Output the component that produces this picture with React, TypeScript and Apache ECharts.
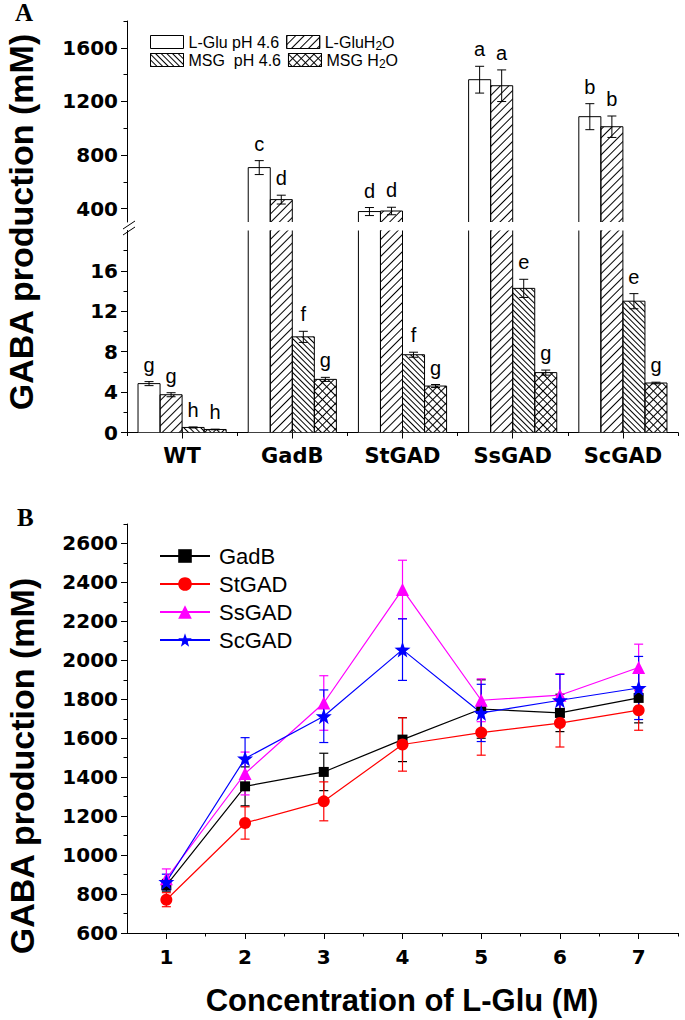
import React, { useEffect, useRef } from 'react';
import * as echarts from 'echarts';

// ---------- Panel A data ----------
const strains = ['WT', 'GadB', 'StGAD', 'SsGAD', 'ScGAD'];
const treatNames = ['L-Glu pH 4.6', 'L-GluH2O', 'MSG  pH 4.6', 'MSG H2O'];

const lgluPH = [4.84, 706, 378, 1362, 1086];
const lgluPHErr = [0.2, 52, 30, 100, 97];
const lgluPHLetters = ['g', 'c', 'd', 'a', 'b'];

const lgluH2O = [3.74, 467, 382, 1317, 1011];
const lgluH2OErr = [0.2, 33, 28, 118, 80];
const lgluH2OLetters = ['g', 'd', 'd', 'a', 'b'];

const msgPH = [0.5, 9.47, 7.7, 14.27, 13.0];
const msgPHErr = [0.05, 0.55, 0.25, 0.9, 0.75];
const msgPHLetters = ['h', 'f', 'f', 'e', 'e'];

const msgH2O = [0.3, 5.26, 4.6, 5.93, 4.9];
const msgH2OErr = [0.03, 0.2, 0.15, 0.25, 0.08];
const msgH2OLetters = ['h', 'g', 'g', 'g', 'g'];

const upperTicks = [400, 800, 1200, 1600];
const upperMinor = [600, 1000, 1400, 1800];
const lowerTicks = [0, 4, 8, 12, 16];
const lowerMinor = [2, 6, 10, 14, 18];

// ---------- Panel B data ----------
const conc = [1, 2, 3, 4, 5, 6, 7];
const concMinor = [1.5, 2.5, 3.5, 4.5, 5.5, 6.5, 7.5];
const bTicks = [600, 800, 1000, 1200, 1400, 1600, 1800, 2000, 2200, 2400, 2600];
const bMinor = [700, 900, 1100, 1300, 1500, 1700, 1900, 2100, 2300, 2500, 2700];

const gadB = [845, 1353, 1427, 1593, 1750, 1730, 1807];
const gadBErr = [30, 100, 96, 113, 150, 96, 128];
const stGAD = [771, 1165, 1276, 1568, 1629, 1678, 1744];
const stGADErr = [36, 83, 100, 137, 116, 123, 103];
const ssGAD = [879, 1419, 1781, 2364, 1795, 1821, 1963];
const ssGADErr = [50, 110, 140, 150, 110, 110, 120];
const scGAD = [862, 1496, 1713, 2055, 1730, 1795, 1858];
const scGADErr = [40, 107, 135, 158, 147, 133, 162];

const ARIAL = '"Liberation Sans", Arial, sans-serif';
const WIDE = '"DejaVu Sans", sans-serif';
const STAR = 'path://M50,0 L62,34 L98,35 L69,57 L79,92 L50,71 L21,92 L31,57 L2,35 L38,34 Z';

const decals: any[] = [
  null,
  { symbol: 'rect', symbolSize: 1, symbolKeepAspect: false, color: '#000', backgroundColor: null, dashArrayX: [1, 0], dashArrayY: [1, 5], rotation: -Math.PI / 4 },
  { symbol: 'rect', symbolSize: 1, symbolKeepAspect: false, color: '#000', backgroundColor: null, dashArrayX: [1, 0], dashArrayY: [1, 3], rotation: Math.PI / 4 },
  { symbol: 'rect', symbolSize: 1, symbolKeepAspect: false, color: '#000', backgroundColor: null, dashArrayX: [[1, 0], [1, 5]], dashArrayY: [1, 0, 5, 0], rotation: Math.PI / 4 },
];

function buildOption() {
  const treatVals = [lgluPH, lgluH2O, msgPH, msgH2O];
  const treatErrs = [lgluPHErr, lgluH2OErr, msgPHErr, msgH2OErr];
  const treatLetters = [lgluPHLetters, lgluH2OLetters, msgPHLetters, msgH2OLetters];

  const series: any[] = [];
  const grids = [
    { x: 0, y: 0, keep: (v: number) => v > 300 },
    { x: 1, y: 2, keep: (v: number) => v < 20 },
  ];

  grids.forEach((g) => {
    treatVals.forEach((vals, k) => {
      const dec = decals[k];
      series.push({
        type: 'bar',
        name: treatNames[k],
        xAxisIndex: g.x,
        yAxisIndex: g.y,
        data: vals,
        barWidth: '20%',
        barGap: '0%',
        clip: true,
        itemStyle: dec ? { color: '#fff', borderWidth: 0, decal: dec } : { color: '#fff', borderWidth: 0 },
        z: 2,
      });
    });
  });

  // bar outlines (clipped so no horizontal line appears at the break)
  grids.forEach((g) => {
    treatVals.forEach((vals, k) => {
      series.push({
        type: 'custom',
        xAxisIndex: g.x,
        yAxisIndex: g.y,
        clip: true,
        z: 3,
        data: vals.map((v, i) => [i, v]),
        renderItem: (params: any, api: any) => {
          const i = api.value(0);
          const v = api.value(1);
          const band = api.coord([1, 0])[0] - api.coord([0, 0])[0];
          const bw = band * 0.2;
          const cx = api.coord([i, v])[0] + (k - 1.5) * bw;
          const yTop = api.coord([i, v])[1];
          const yBase = api.coord([i, 0])[1];
          return {
            type: 'rect',
            shape: { x: cx - bw / 2, y: yTop, width: bw, height: yBase - yTop },
            style: { fill: 'none', stroke: '#000', lineWidth: 1 },
          };
        },
      });
    });
  });

  // error bars and letters
  grids.forEach((g) => {
    treatVals.forEach((vals, k) => {
      const errs = treatErrs[k];
      const letters = treatLetters[k];
      series.push({
        type: 'custom',
        xAxisIndex: g.x,
        yAxisIndex: g.y,
        clip: false,
        z: 4,
        data: vals.map((v, i) => [i, v, errs[i]]).filter((d) => g.keep(d[1])),
        renderItem: (params: any, api: any) => {
          const i = api.value(0);
          const v = api.value(1);
          const e = api.value(2);
          const band = api.coord([1, 0])[0] - api.coord([0, 0])[0];
          const bw = band * 0.2;
          const cx = api.coord([i, v])[0] + (k - 1.5) * bw;
          const yTop = api.coord([i, v + e])[1];
          const yBot = api.coord([i, v - e])[1];
          const cap = 4.5;
          const ls = { stroke: '#000', lineWidth: 1 };
          return {
            type: 'group',
            children: [
              { type: 'line', shape: { x1: cx, y1: yTop, x2: cx, y2: yBot }, style: ls },
              { type: 'line', shape: { x1: cx - cap, y1: yTop, x2: cx + cap, y2: yTop }, style: ls },
              { type: 'line', shape: { x1: cx - cap, y1: yBot, x2: cx + cap, y2: yBot }, style: ls },
              {
                type: 'text',
                x: cx,
                y: yTop - 7,
                style: { text: letters[i], fontSize: 20, fontFamily: ARIAL, fill: '#000', align: 'center', verticalAlign: 'bottom' },
              },
            ],
          };
        },
      });
    });
  });

  // Panel B
  const bSeries = [
    { name: 'GadB', vals: gadB, errs: gadBErr, color: '#000000', symbol: 'rect', size: 10 },
    { name: 'StGAD', vals: stGAD, errs: stGADErr, color: '#ff0000', symbol: 'circle', size: 12 },
    { name: 'SsGAD', vals: ssGAD, errs: ssGADErr, color: '#ff00ff', symbol: 'triangle', size: 13 },
    { name: 'ScGAD', vals: scGAD, errs: scGADErr, color: '#0000ff', symbol: STAR, size: 16 },
  ];
  bSeries.forEach((s) => {
    series.push({
      type: 'custom',
      xAxisIndex: 3,
      yAxisIndex: 4,
      z: 5,
      data: conc.map((c, i) => [c, s.vals[i], s.errs[i]]),
      renderItem: (params: any, api: any) => {
        const x = api.value(0);
        const v = api.value(1);
        const e = api.value(2);
        const t = api.coord([x, v + e]);
        const b = api.coord([x, v - e]);
        const cap = 4.5;
        const ls = { stroke: s.color, lineWidth: 1.2 };
        return {
          type: 'group',
          children: [
            { type: 'line', shape: { x1: t[0], y1: t[1], x2: b[0], y2: b[1] }, style: ls },
            { type: 'line', shape: { x1: t[0] - cap, y1: t[1], x2: t[0] + cap, y2: t[1] }, style: ls },
            { type: 'line', shape: { x1: b[0] - cap, y1: b[1], x2: b[0] + cap, y2: b[1] }, style: ls },
          ],
        };
      },
    });
  });
  bSeries.forEach((s) => {
    series.push({
      type: 'line',
      name: s.name,
      xAxisIndex: 3,
      yAxisIndex: 4,
      z: 6,
      data: conc.map((c, i) => [c, s.vals[i]]),
      symbol: s.symbol,
      symbolSize: s.size,
      lineStyle: { color: s.color, width: 1.2 },
      itemStyle: { color: s.color },
    });
  });

  const plain = (v: number) => String(v);
  const tickLabel = { fontFamily: WIDE, fontWeight: 'bold', fontSize: 20, color: '#000', formatter: plain };
  const axLine = { show: true, lineStyle: { color: '#000', width: 1 } };
  const tickStyle = { color: '#000', width: 1 };

  const subRich = { sub: { fontSize: 12, fontFamily: ARIAL, color: '#000', padding: [7, 0, 0, 0] } };
  const fmt = (name: string) => name.replace('H2O', 'H{sub|2}O');

  return {
    animation: false,
    backgroundColor: '#ffffff',
    grid: [
      { left: 127, top: 21, width: 551, height: 201 },
      { left: 127, top: 230.5, width: 551, height: 202 },
      { left: 127, top: 524, width: 551, height: 409 },
    ],
    xAxis: [
      { gridIndex: 0, type: 'category', data: strains, show: false },
      {
        gridIndex: 1, type: 'category', data: strains, position: 'bottom',
        axisLine: axLine,
        axisTick: { show: true, alignWithLabel: true, length: 6, lineStyle: tickStyle },
        axisLabel: { fontFamily: WIDE, fontWeight: 'bold', color: '#000', fontSize: 21, margin: 13 },
        splitLine: { show: false },
      },
      {
        gridIndex: 1, type: 'category', data: strains, position: 'bottom',
        axisLine: { show: false },
        axisTick: { show: true, length: 3.5, lineStyle: tickStyle },
        axisLabel: { show: false },
        splitLine: { show: false },
      },
      {
        gridIndex: 2, type: 'value', min: 0.5, max: 7.5, position: 'bottom',
        axisLine: axLine,
        axisTick: { show: true, customValues: conc, length: 6, lineStyle: tickStyle },
        axisLabel: { ...tickLabel, customValues: conc, margin: 14 },
        splitLine: { show: false },
      },
      {
        gridIndex: 2, type: 'value', min: 0.5, max: 7.5, position: 'bottom',
        axisLine: { show: false },
        axisTick: { show: true, customValues: concMinor, length: 3.5, lineStyle: tickStyle },
        axisLabel: { show: false },
        splitLine: { show: false },
      },
    ],
    yAxis: [
      {
        gridIndex: 0, type: 'value', min: 300, max: 1800, position: 'left',
        axisLine: axLine,
        axisTick: { show: true, customValues: upperTicks, length: 6, lineStyle: tickStyle },
        axisLabel: { ...tickLabel, customValues: upperTicks, margin: 9 },
        splitLine: { show: false },
      },
      {
        gridIndex: 0, type: 'value', min: 300, max: 1800, position: 'left',
        axisLine: { show: false },
        axisTick: { show: true, customValues: upperMinor, length: 3.5, lineStyle: tickStyle },
        axisLabel: { show: false },
        splitLine: { show: false },
      },
      {
        gridIndex: 1, type: 'value', min: 0, max: 20, position: 'left',
        axisLine: axLine,
        axisTick: { show: true, customValues: lowerTicks, length: 6, lineStyle: tickStyle },
        axisLabel: { ...tickLabel, customValues: lowerTicks, margin: 9 },
        splitLine: { show: false },
      },
      {
        gridIndex: 1, type: 'value', min: 0, max: 20, position: 'left',
        axisLine: { show: false },
        axisTick: { show: true, customValues: lowerMinor, length: 3.5, lineStyle: tickStyle },
        axisLabel: { show: false },
        splitLine: { show: false },
      },
      {
        gridIndex: 2, type: 'value', min: 600, max: 2700, position: 'left',
        axisLine: axLine,
        axisTick: { show: true, customValues: bTicks, length: 6, lineStyle: tickStyle },
        axisLabel: { ...tickLabel, customValues: bTicks, margin: 9 },
        splitLine: { show: false },
      },
      {
        gridIndex: 2, type: 'value', min: 600, max: 2700, position: 'left',
        axisLine: { show: false },
        axisTick: { show: true, customValues: bMinor, length: 3.5, lineStyle: tickStyle },
        axisLabel: { show: false },
        splitLine: { show: false },
      },
    ],
    legend: [
      {
        data: [treatNames[0], treatNames[1]], left: 145, top: 29, itemWidth: 33, itemHeight: 13, itemGap: 7,
        icon: 'rect', selectedMode: false, formatter: fmt,
        itemStyle: { borderColor: '#000', borderWidth: 1 },
        textStyle: { fontFamily: ARIAL, fontSize: 16, color: '#000', rich: subRich },
      },
      {
        data: [treatNames[2], treatNames[3]], left: 145, top: 47, itemWidth: 33, itemHeight: 13, itemGap: 7,
        icon: 'rect', selectedMode: false, formatter: fmt,
        itemStyle: { borderColor: '#000', borderWidth: 1 },
        textStyle: { fontFamily: ARIAL, fontSize: 16, color: '#000', rich: subRich },
      },
      {
        data: bSeries.map((s) => s.name), orient: 'vertical', left: 154, top: 540,
        itemWidth: 50, itemHeight: 17, itemGap: 6, selectedMode: false,
        textStyle: { fontFamily: ARIAL, fontSize: 22, color: '#000', lineHeight: 22, padding: [0, 0, 0, 4] },
      },
    ],
    graphic: [
      { type: 'text', x: 15, y: 12, style: { text: 'A', fontFamily: '"Liberation Serif", "Times New Roman", serif', fontWeight: 'bold', fontSize: 25, fill: '#000', verticalAlign: 'middle' } },
      { type: 'text', x: 17, y: 517, style: { text: 'B', fontFamily: '"Liberation Serif", "Times New Roman", serif', fontWeight: 'bold', fontSize: 25, fill: '#000', verticalAlign: 'middle' } },
      { type: 'text', x: 21, y: 222, rotation: Math.PI / 2, style: { text: 'GABA production (mM)', fontFamily: ARIAL, fontWeight: 'bold', fontSize: 34, fill: '#000', align: 'center', verticalAlign: 'middle' } },
      { type: 'text', x: 22, y: 766, rotation: Math.PI / 2, style: { text: 'GABA production (mM)', fontFamily: ARIAL, fontWeight: 'bold', fontSize: 34, fill: '#000', align: 'center', verticalAlign: 'middle' } },
      { type: 'text', x: 402, y: 1000, style: { text: 'Concentration of L-Glu (M)', fontFamily: ARIAL, fontWeight: 'bold', fontSize: 31, fill: '#000', align: 'center', verticalAlign: 'middle' } },
      { type: 'line', shape: { x1: 123, y1: 229, x2: 135, y2: 221 }, style: { stroke: '#000', lineWidth: 1 } },
      { type: 'line', shape: { x1: 123, y1: 235, x2: 135, y2: 227 }, style: { stroke: '#000', lineWidth: 1 } },
    ],
    series,
  };
}

export default function App() {
  const ref = useRef<HTMLDivElement>(null);
  useEffect(() => {
    if (!ref.current) return;
    const chart = echarts.init(ref.current, null, { renderer: 'svg' });
    chart.setOption(buildOption() as any);
    return () => chart.dispose();
  }, []);
  return (
    <div
      ref={ref}
      style={{ position: 'absolute', left: 0, top: 0, width: 685, height: 1020, background: '#fff' }}
    />
  );
}
